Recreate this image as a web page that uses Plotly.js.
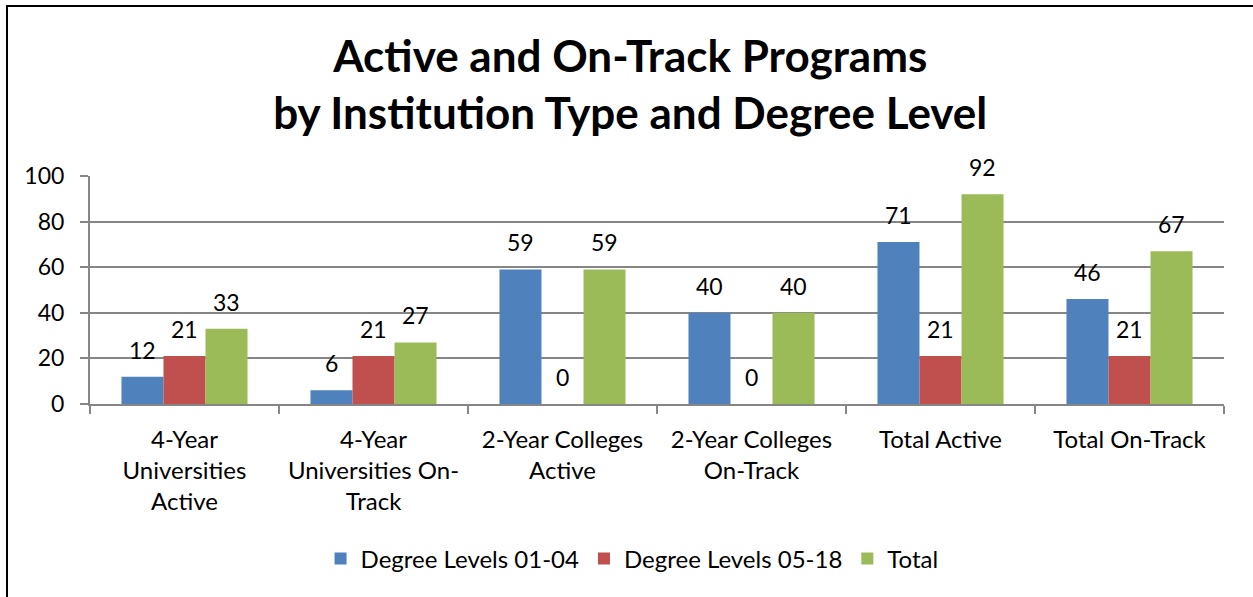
<!DOCTYPE html>
<html>
<head>
<meta charset="utf-8">
<script src="https://cdn.plot.ly/plotly-3.0.1.min.js"></script>
<style>html,body{margin:0;padding:0;background:#fff;}#chart{width:1253px;height:597px;}</style>
</head>
<body>
<div id="chart"></div>
<script>
const categories = [
  "4-Year<br>Universities<br>Active",
  "4-Year<br>Universities On-<br>Track",
  "2-Year Colleges<br>Active",
  "2-Year Colleges<br>On-Track",
  "Total Active",
  "Total On-Track"
];
const seriesNames = ["Degree Levels 01-04", "Degree Levels 05-18", "Total"];
const levels0104 = [12, 6, 59, 40, 71, 46];
const levels0518 = [21, 21, 0, 0, 21, 21];
const totals = [33, 27, 59, 40, 92, 67];
const yTicks = [0, 20, 40, 60, 80, 100];
const colors = ["#4F81BD", "#C0504D", "#9BBB59"];

const FONT = "Lato, 'Open Sans', sans-serif";
const seriesValues = [levels0104, levels0518, totals];
const data = seriesValues.map((vals, i) => ({
  type: "bar",
  name: seriesNames[i],
  x: categories,
  y: vals,
  marker: {color: colors[i], line: {width: 0}},
  hoverinfo: "x+y+name"
}));

const L = 90, R = 29, T = 176, B = 193;
const W = 1253, H = 597;
const pw = W - L - R, ph = H - T - B;
const px = x => (x - L) / pw;
const py = y => 1 - (y - T) / ph;
const BARGAP = 0.333;
const barW = pw / categories.length * (1 - BARGAP) / seriesValues.length;

// data labels placed through the axes, offset to each bar in its group
const annotations = [];
seriesValues.forEach((vals, i) => {
  vals.forEach((v, j) => {
    annotations.push({
      x: categories[j], y: v, xref: "x", yref: "y",
      text: String(v), showarrow: false,
      xshift: (i - (seriesValues.length - 1) / 2) * barW,
      yshift: 27, xanchor: "center", yanchor: "middle",
      font: {family: FONT, size: 23, color: "#000"}
    });
  });
});

const layout = {
  width: W, height: H,
  margin: {l: L, r: R, t: T, b: B, pad: 0},
  paper_bgcolor: "#fff",
  plot_bgcolor: "#fff",
  font: {family: FONT, size: 24, color: "#000"},
  title: {
    text: "<b>Active and On-Track Programs<br>by Institution Type and Degree Level</b>",
    font: {family: FONT, size: 44, color: "#000"},
    x: 0.503, xanchor: "center",
    yref: "container",
    y: 0.879, yanchor: "top"
  },
  barmode: "group",
  bargap: BARGAP,
  bargroupgap: 0,
  xaxis: {
    type: "category",
    showgrid: false,
    showline: true, linecolor: "#868686", linewidth: 2,
    ticks: "outside", tickson: "boundaries", ticklen: 8, tickcolor: "#868686", tickwidth: 2,
    tickfont: {family: FONT, size: 24, color: "#000"},
    ticklabelstandoff: 13,
    automargin: false
  },
  yaxis: {
    range: [0, 100],
    tickvals: yTicks,
    ticktext: yTicks.map(String),
    showgrid: true, gridcolor: "#868686", gridwidth: 2,
    zeroline: false,
    showline: true, linecolor: "#868686", linewidth: 2,
    ticks: "outside", ticklen: 8, tickcolor: "#868686", tickwidth: 2,
    tickfont: {family: FONT, size: 23, color: "#000"},
    ticklabelstandoff: 11,
    automargin: false
  },
  legend: {
    orientation: "h",
    x: 0.478, xanchor: "center",
    y: py(559), yanchor: "middle",
    font: {family: FONT, size: 24, color: "#000"},
    itemwidth: 30,
    tracegroupgap: 0
  },
  showlegend: true,
  annotations: annotations,
  shapes: [{
    type: "rect", xref: "paper", yref: "paper",
    x0: px(7), x1: px(1300), y0: py(650), y1: py(6),
    line: {color: "#000", width: 2}, fillcolor: "rgba(0,0,0,0)", layer: "above"
  }]
};

Plotly.newPlot("chart", data, layout, {displayModeBar: false});
</script>
</body>
</html>
